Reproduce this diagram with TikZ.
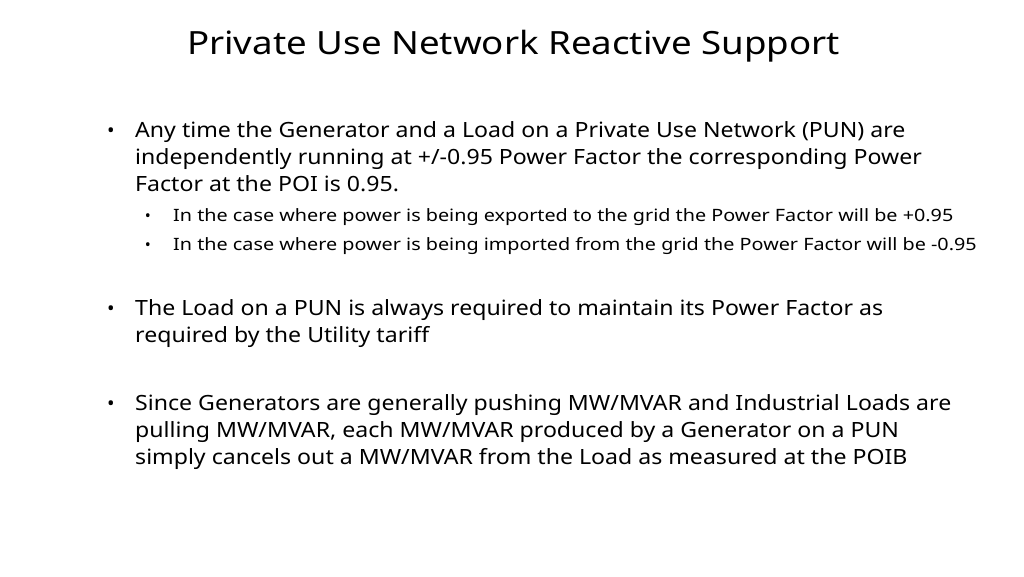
\documentclass[tikz,border=0pt]{standalone}
\usepackage{fontspec}
\setmainfont{Noto Sans}
\newcommand\bx[1]{\scalebox{1.1}[1]{#1}}
\newcommand\sbx[1]{\scalebox{1.164}[1]{#1}}
\begin{document}
\begin{tikzpicture}[x=1pt,y=-1pt,
  ln/.style={anchor=base west,inner sep=0pt,font=\fontsize{21}{24}\selectfont},
  sl/.style={anchor=base west,inner sep=0pt,font=\fontsize{17}{20}\selectfont},
  bl/.style={anchor=base,inner sep=0pt,font=\fontsize{20}{22}\selectfont}]
\useasboundingbox (0,0) rectangle (1024,576);
\node[anchor=base west,inner sep=0pt,font=\fontsize{32}{36}\selectfont] (title) at (187,54) {\scalebox{1.146}[1]{Private Use Network Reactive Support}};
\node[bl] (b1) at (111,137) {•};
\node[ln] (l1) at (135,137) {\bx{Any time the Generator and a Load on a Private Use Network (PUN) are}};
\node[ln] (l2) at (135,164) {\bx{independently running at +/-0.95 Power Factor the corresponding Power}};
\node[ln] (l3) at (135,191) {\bx{Factor at the POI is 0.95.}};
\node[bl,font=\fontsize{16}{18}\selectfont] (s1b) at (148,221) {•};
\node[sl] (s1) at (173,221) {\sbx{In the case where power is being exported to the grid the Power Factor will be +0.95}};
\node[bl,font=\fontsize{16}{18}\selectfont] (s2b) at (148,250) {•};
\node[sl] (s2) at (173,250) {\sbx{In the case where power is being imported from the grid the Power Factor will be -0.95}};
\node[bl] (b2) at (111,315) {•};
\node[ln] (m1) at (135,315) {\bx{The Load on a PUN is always required to maintain its Power Factor as}};
\node[ln] (m2) at (135,342) {\bx{required by the Utility tariff}};
\node[bl] (b3) at (111,410) {•};
\node[ln] (n1) at (135,410) {\bx{Since Generators are generally pushing MW/MVAR and Industrial Loads are}};
\node[ln] (n2) at (135,437) {\bx{pulling MW/MVAR, each MW/MVAR produced by a Generator on a PUN}};
\node[ln] (n3) at (135,464) {\bx{simply cancels out a MW/MVAR from the Load as measured at the POIB}};
\end{tikzpicture}
\end{document}
